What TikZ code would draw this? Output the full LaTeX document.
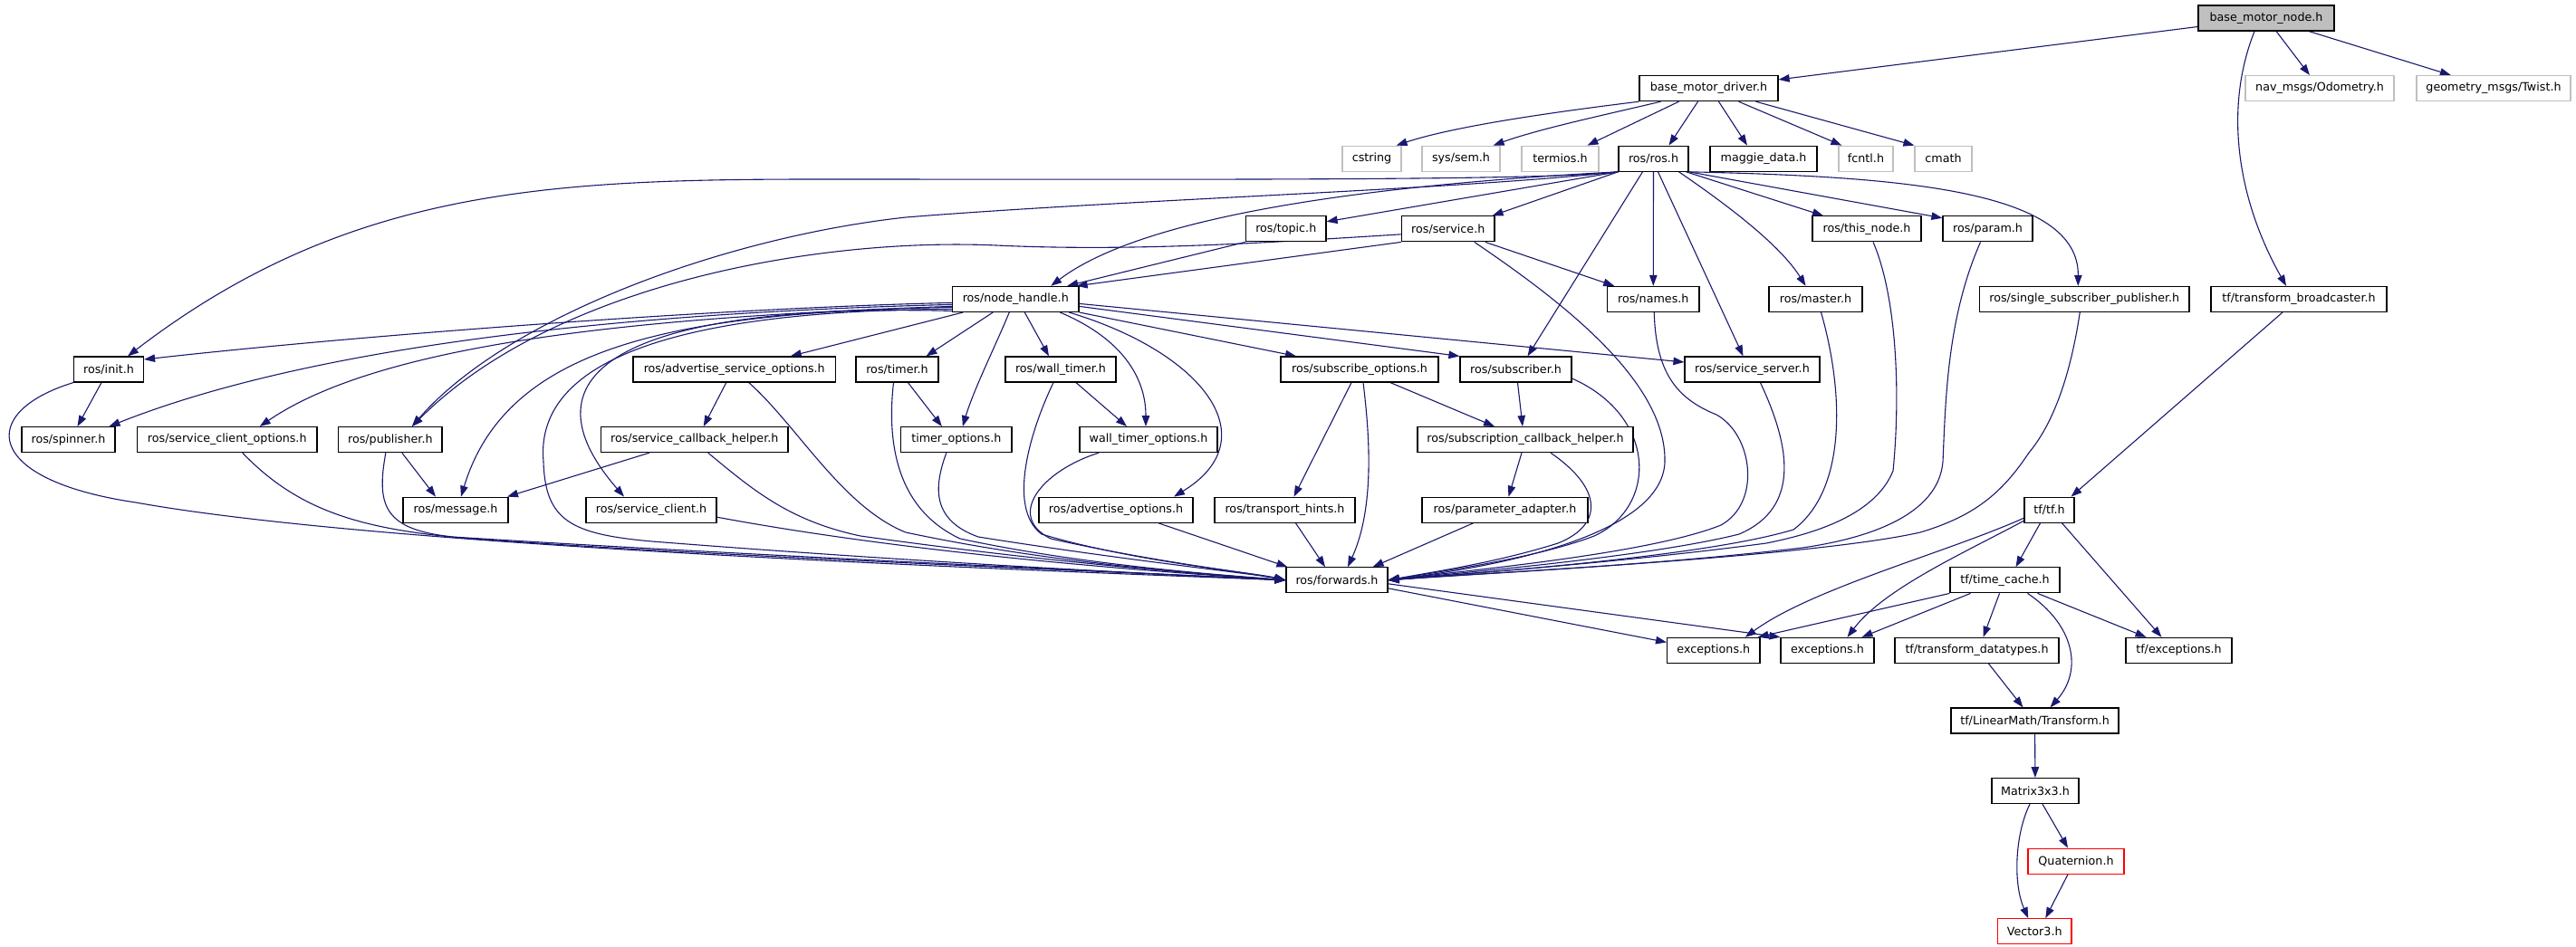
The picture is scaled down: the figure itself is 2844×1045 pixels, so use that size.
\documentclass[tikz,border=0pt]{standalone}
\usepackage{fontspec}
\usetikzlibrary{arrows.meta,backgrounds}
\newfontfamily\dvs{DejaVu Sans}
\definecolor{edgecol}{HTML}{191970}
\definecolor{grayseventyfive}{HTML}{BFBFBF}
\tikzset{
  nbox/.style={draw=black, fill=white, line width=1.2pt, minimum height=28pt, inner sep=0pt,
    font={\dvs\fontsize{12.7pt}{15pt}\selectfont}},
  gbox/.style={nbox, draw=grayseventyfive},
  rbox/.style={nbox, draw=red},
  rootbox/.style={nbox, fill=grayseventyfive},
  edge/.style={draw=edgecol, line width=1.1pt, -{Triangle[length=12pt,width=8.5pt]}},
}
\begin{document}
\begin{tikzpicture}[x=1pt,y=-1pt]
\useasboundingbox (0,0) rectangle (2844,1045);
% rank 0
\node[rootbox, minimum width=150] (root) at (2502,20) {base\_motor\_node.h};
% rank 1
\node[nbox, minimum width=153] (bmd) at (1886.5,97.6) {base\_motor\_driver.h};
\node[gbox, minimum width=164] (nav) at (2561,97.6) {nav\_msgs/Odometry.h};
\node[gbox, minimum width=170] (twist) at (2753,97.6) {geometry\_msgs/Twist.h};
% rank 2
\node[gbox, minimum width=65] (cstring) at (1514.5,175.2) {cstring};
\node[gbox, minimum width=86] (sem) at (1613,175.2) {sys/sem.h};
\node[gbox, minimum width=85] (termios) at (1722.5,175.2) {termios.h};
\node[nbox, minimum width=77] (rosros) at (1825.5,175.2) {ros/ros.h};
\node[nbox, minimum width=118] (maggie) at (1947,175.2) {maggie\_data.h};
\node[gbox, minimum width=60] (fcntl) at (2060,175.2) {fcntl.h};
\node[gbox, minimum width=63] (cmath) at (2145.5,175.2) {cmath};
% rank 3
\node[nbox, minimum width=88.5] (topic) at (1419.75,252.8) {ros/topic.h};
\node[nbox, minimum width=102.5] (service) at (1598.75,252.8) {ros/service.h};
\node[nbox, minimum width=120] (thisnode) at (2061,252.8) {ros/this\_node.h};
\node[nbox, minimum width=99] (param) at (2194.5,252.8) {ros/param.h};
% rank 4
\node[nbox, minimum width=139.5] (nh) at (1121.25,330.4) {ros/node\_handle.h};
\node[nbox, minimum width=101.5] (names) at (1825.25,330.4) {ros/names.h};
\node[nbox, minimum width=103] (master) at (2004.5,330.4) {ros/master.h};
\node[nbox, minimum width=231.5] (ssp) at (2301.25,330.4) {ros/single\_subscriber\_publisher.h};
\node[nbox, minimum width=194] (tb) at (2538,330.4) {tf/transform\_broadcaster.h};
% rank 5
\node[nbox, minimum width=77] (init) at (120,408) {ros/init.h};
\node[nbox, minimum width=223.5] (aso) at (810.75,408) {ros/advertise\_service\_options.h};
\node[nbox, minimum width=91] (timer) at (990.5,408) {ros/timer.h};
\node[nbox, minimum width=122] (wtimer) at (1171,408) {ros/wall\_timer.h};
\node[nbox, minimum width=174] (subopt) at (1501,408) {ros/subscribe\_options.h};
\node[nbox, minimum width=123] (subscriber) at (1673.5,408) {ros/subscriber.h};
\node[nbox, minimum width=149] (sserver) at (1934.5,408) {ros/service\_server.h};
% rank 6
\node[nbox, minimum width=103] (spinner) at (75.5,485.6) {ros/spinner.h};
\node[nbox, minimum width=198.5] (sco) at (250.75,485.6) {ros/service\_client\_options.h};
\node[nbox, minimum width=114.3] (pub) at (430.85,485.6) {ros/publisher.h};
\node[nbox, minimum width=206.5] (sch) at (766.75,485.6) {ros/service\_callback\_helper.h};
\node[nbox, minimum width=122.3] (topt) at (1055.85,485.6) {timer\_options.h};
\node[nbox, minimum width=152] (wtopt) at (1268,485.6) {wall\_timer\_options.h};
\node[nbox, minimum width=238] (scbh) at (1684,485.6) {ros/subscription\_callback\_helper.h};
% rank 7
\node[nbox, minimum width=116] (message) at (503,563.2) {ros/message.h};
\node[nbox, minimum width=144] (sclient) at (719,563.2) {ros/service\_client.h};
\node[nbox, minimum width=170] (aopt) at (1232,563.2) {ros/advertise\_options.h};
\node[nbox, minimum width=155] (thints) at (1418.5,563.2) {ros/transport\_hints.h};
\node[nbox, minimum width=183] (padapt) at (1661.5,563.2) {ros/parameter\_adapter.h};
\node[nbox, minimum width=55] (tf) at (2262.5,563.2) {tf/tf.h};
% rank 8
\node[nbox, minimum width=112] (fwd) at (1476,640.8) {ros/forwards.h};
\node[nbox, minimum width=121] (tcache) at (2213.5,640.8) {tf/time\_cache.h};
% rank 9
\node[nbox, minimum width=102.4] (exc1) at (1891.8,718.4) {exceptions.h};
\node[nbox, minimum width=103] (exc2) at (2017.5,718.4) {exceptions.h};
\node[nbox, minimum width=181] (tdt) at (2182.5,718.4) {tf/transform\_datatypes.h};
\node[nbox, minimum width=117] (tfexc) at (2405.5,718.4) {tf/exceptions.h};
% rank 10-13
\node[nbox, minimum width=185] (ltrans) at (2246.5,796) {tf/LinearMath/Transform.h};
\node[nbox, minimum width=96] (matrix) at (2247,873.6) {Matrix3x3.h};
\node[rbox, minimum width=106] (quat) at (2292,951.2) {Quaternion.h};
\node[rbox, minimum width=81.5] (vec) at (2246.25,1028.8) {Vector3.h};

\begin{scope}[on background layer]
\fill[white] (0,0) rectangle (2844,1045);
% root
\draw[edge] (root) -- (bmd);
\draw[edge] (root) -- (nav);
\draw[edge] (root) -- (twist);
\draw[edge] ([xshift=-13pt]root.south) .. controls (2455,120) and (2470,220) .. ([xshift=-14pt]tb.north);
% base_motor_driver
\draw[edge] (bmd.south west) .. controls (1730,122) and (1610,138) .. ([xshift=-6pt]cstring.north east);
\draw[edge] ([xshift=-53pt]bmd.south) .. controls (1780,125) and (1700,142) .. ([xshift=-8pt]sem.north east);
\draw[edge] ([xshift=-33pt]bmd.south) -- ([xshift=30pt]termios.north);
\draw[edge] ([xshift=-12pt]bmd.south) -- ([xshift=17pt]rosros.north);
\draw[edge] ([xshift=11pt]bmd.south) -- ([xshift=-18pt]maggie.north);
\draw[edge] ([xshift=33pt]bmd.south) -- ([xshift=4pt]fcntl.north west);
\draw[edge] ([xshift=52pt]bmd.south) -- (cmath.north west);
% ros/ros.h
\draw[edge] (rosros.south west) .. controls (1700,200) and (1300,198) .. (900,198) .. controls (600,198) and (380,210) .. ([xshift=21pt]init.north);
\draw[edge] (rosros.south west) .. controls (1600,210) and (1250,220) .. (1000,240) .. controls (800,262) and (560,350) .. ([xshift=24pt]pub.north);
\draw[edge] (rosros.south west) .. controls (1500,205) and (1260,240) .. ([xshift=39pt]nh.north);
\draw[edge] (rosros.south west) -- ([yshift=8pt]topic.east);
\draw[edge] (rosros.south west) -- ([xshift=-3pt]service.north east);
\draw[edge] (rosros) -- (names);
\draw[edge] ([xshift=-12pt]rosros.south) -- ([xshift=13pt]subscriber.north);
\draw[edge] ([xshift=5pt]rosros.south) -- ([xshift=-10pt]sserver.north);
\draw[edge] ([xshift=28pt]rosros.south) .. controls (1905,225) and (1965,270) .. ([xshift=-11pt]master.north);
\draw[edge] ([xshift=36pt]rosros.south) -- ([xshift=-48pt]thisnode.north);
\draw[edge] (rosros.south east) -- ([yshift=12pt]param.west);
\draw[edge] (rosros.south east) .. controls (2100,195) and (2295,210) .. ([xshift=-7pt]ssp.north);
% ros/service.h, ros/topic.h
\draw[edge] ([yshift=-6pt]service.west) .. controls (1400,268) and (1250,278) .. (1100,271) .. controls (900,262) and (610,315) .. ([xshift=24pt]pub.north);
\draw[edge] (service.south west) -- ([xshift=-3pt]nh.north east);
\draw[edge] ([xshift=41pt]service.south) -- ([xshift=-43pt]names.north);
\draw[edge] ([xshift=29pt]service.south) .. controls (1720,330) and (1840,420) .. (1838,510) .. controls (1836,580) and (1700,620) .. (fwd.east);
\draw[edge] (topic.south west) -- ([xshift=57pt]nh.north);
% ros/node_handle.h
\draw[edge] ([yshift=-4pt]nh.west) .. controls (800,340) and (400,370) .. ([yshift=11pt]init.east);
\draw[edge] ([yshift=-6pt]nh.west) .. controls (700,345) and (350,380) .. ([xshift=45pt]spinner.north);
\draw[edge] ([yshift=-8pt]nh.west) .. controls (700,350) and (420,380) .. ([xshift=36pt]sco.north);
\draw[edge] ([yshift=-9pt]nh.west) .. controls (750,345) and (560,380) .. ([xshift=6pt]message.north);
\draw[edge] ([yshift=-11pt]nh.west) .. controls (740,343) and (590,400) .. (600,510) .. controls (602,575) and (630,590) .. (720,598) .. controls (1000,620) and (1250,633) .. (fwd.west);
\draw[edge] ([yshift=-13pt]nh.west) .. controls (720,335) and (560,400) .. ([xshift=-30pt]sclient.north);
\draw[edge] ([xshift=-58pt]nh.south) -- ([xshift=62pt]aso.north);
\draw[edge] ([xshift=-25pt]nh.south) -- ([xshift=32pt]timer.north);
\draw[edge] ([xshift=-7pt]nh.south) .. controls (1100,380) and (1075,430) .. ([xshift=7pt]topt.north);
\draw[edge] ([xshift=10pt]nh.south) -- ([xshift=-13pt]wtimer.north);
\draw[edge] ([xshift=49pt]nh.south) .. controls (1230,370) and (1265,410) .. ([xshift=-3pt]wtopt.north);
\draw[edge] ([xshift=59pt]nh.south) .. controls (1330,390) and (1400,485) .. ([xshift=64pt]aopt.north);
\draw[edge] (nh.south east) -- ([xshift=-70pt]subopt.north);
\draw[edge] ([yshift=-8pt]nh.east) -- (subscriber.north west);
\draw[edge] ([yshift=-5pt]nh.east) -- ([yshift=8pt]sserver.west);
% ros/init.h etc.
\draw[edge] ([xshift=-8pt]init.south) -- ([xshift=10pt]spinner.north);
\draw[edge] (init.south west) .. controls (-25,455) and (-20,530) .. (150,555) .. controls (400,600) and (1000,625) .. (fwd.west);
\draw[edge] ([xshift=17pt]sco.south) .. controls (330,565) and (400,585) .. (520,595) .. controls (800,615) and (1200,630) .. (fwd.west);
\draw[edge] ([xshift=-5pt]pub.south) .. controls (415,560) and (425,585) .. (500,593) .. controls (800,612) and (1200,630) .. (fwd.west);
\draw[edge] ([xshift=13pt]pub.south) -- ([xshift=-22pt]message.north);
\draw[edge] ([xshift=-50pt]sch.south) -- ([xshift=57pt]message.north);
\draw[edge] ([xshift=15pt]sch.south) .. controls (830,540) and (870,575) .. (950,592) .. controls (1150,620) and (1300,632) .. (fwd.west);
\draw[edge] ([xshift=-9pt]aso.south) -- ([xshift=10pt]sch.north);
\draw[edge] ([xshift=16pt]aso.south) .. controls (880,470) and (930,560) .. (1000,588) .. controls (1150,620) and (1300,632) .. (fwd.west);
\draw[edge] ([yshift=-8pt]sclient.east) .. controls (1000,610) and (1250,630) .. (fwd.west);
\draw[edge] ([xshift=12pt]timer.south) -- ([xshift=-16pt]topt.north);
\draw[edge] ([xshift=-4pt]timer.south) .. controls (980,480) and (985,560) .. (1060,595) .. controls (1200,625) and (1350,635) .. (fwd.west);
\draw[edge] ([xshift=-11pt]topt.south) .. controls (1030,540) and (1030,575) .. (1080,593) .. controls (1250,620) and (1380,633) .. (fwd.west);
\draw[edge] ([xshift=17pt]wtimer.south) -- ([xshift=-24pt]wtopt.north);
\draw[edge] ([xshift=-8pt]wtimer.south) .. controls (1140,470) and (1110,560) .. (1150,590) .. controls (1250,620) and (1380,632) .. (fwd.west);
\draw[edge] ([xshift=-55pt]wtopt.south) .. controls (1150,520) and (1110,570) .. (1160,595) .. controls (1280,622) and (1390,634) .. (fwd.west);
\draw[edge] ([xshift=47pt]aopt.south) -- ([xshift=2pt]fwd.north west);
\draw[edge] ([xshift=-9pt]subopt.south) -- ([xshift=10pt]thints.north);
\draw[edge] ([xshift=4pt]subopt.south) .. controls (1512,480) and (1518,560) .. ([xshift=12pt]fwd.north);
\draw[edge] ([xshift=34pt]subopt.south) -- ([xshift=-34pt]scbh.north);
\draw[edge] ([xshift=12pt]thints.south) -- ([xshift=-13pt]fwd.north);
\draw[edge] ([xshift=2pt]subscriber.south) -- ([xshift=-3pt]scbh.north);
\draw[edge] ([yshift=-10pt]subscriber.east) .. controls (1830,460) and (1830,560) .. (1760,592) .. controls (1700,615) and (1600,630) .. (fwd.east);
\draw[edge] ([xshift=-4pt]scbh.south) -- ([xshift=4pt]padapt.north);
\draw[edge] ([xshift=28pt]scbh.south) .. controls (1770,540) and (1770,580) .. (1720,600) .. controls (1650,622) and (1580,632) .. (fwd.east);
\draw[edge] ([xshift=-35pt]padapt.south) -- ([xshift=-17pt]fwd.north east);
\draw[edge] ([xshift=1pt]names.south) .. controls (1828,410) and (1850,440) .. (1895,458) .. controls (1935,480) and (1945,555) .. (1900,580) .. controls (1820,612) and (1620,630) .. (fwd.east);
\draw[edge] ([xshift=9pt]sserver.south) .. controls (1975,490) and (1990,560) .. (1920,590) .. controls (1820,615) and (1620,632) .. (fwd.east);
\draw[edge] ([xshift=6pt]master.south) .. controls (2035,430) and (2040,540) .. (1980,585) .. controls (1880,615) and (1640,632) .. (fwd.east);
\draw[edge] ([xshift=7pt]thisnode.south) .. controls (2095,330) and (2098,440) .. (2090,520) .. controls (2070,570) and (2000,590) .. (1950,600) .. controls (1800,620) and (1640,632) .. (fwd.east);
\draw[edge] ([xshift=-8pt]param.south) .. controls (2150,350) and (2148,440) .. (2145,510) .. controls (2140,570) and (2060,595) .. (1990,605) .. controls (1820,625) and (1640,633) .. (fwd.east);
\draw[edge] ([xshift=-5pt]ssp.south) .. controls (2285,420) and (2265,470) .. (2240,500) .. controls (2210,545) and (2180,570) .. (2120,588) .. controls (2000,615) and (1650,632) .. (fwd.east);
% forwards
\draw[edge] ([yshift=-9pt]fwd.east) -- ([yshift=9pt]exc1.west);
\draw[edge] ([yshift=-4pt]fwd.east) -- (exc2.north west);
% tf
\draw[edge] ([xshift=-18pt]tb.south) -- ([xshift=24pt]tf.north);
\draw[edge] ([yshift=-9pt]tf.west) .. controls (2150,610) and (2000,650) .. ([xshift=35pt]exc1.north);
\draw[edge] ([yshift=-12pt]tf.west) .. controls (2170,610) and (2080,650) .. ([xshift=22pt]exc2.north);
\draw[edge] ([xshift=-10pt]tf.south) -- ([xshift=12pt]tcache.north);
\draw[edge] ([xshift=14pt]tf.south) -- ([xshift=-19pt]tfexc.north);
\draw[edge] (tcache.south west) .. controls (2080,672) and (2000,690) .. ([xshift=-3pt]exc1.north east);
\draw[edge] ([xshift=-38pt]tcache.south) -- ([xshift=38pt]exc2.north);
\draw[edge] ([xshift=-6pt]tcache.south) -- ([xshift=7pt]tdt.north);
\draw[edge] ([xshift=25pt]tcache.south) .. controls (2290,690) and (2300,740) .. ([xshift=17pt]ltrans.north);
\draw[edge] ([xshift=36pt]tcache.south) -- ([xshift=-36pt]tfexc.north);
\draw[edge] ([xshift=13pt]tdt.south) -- ([xshift=-13pt]ltrans.north);
\draw[edge] (ltrans) -- (matrix);
\draw[edge] ([xshift=8pt]matrix.south) -- ([xshift=-9pt]quat.north);
\draw[edge] ([xshift=-6pt]matrix.south) .. controls (2225,920) and (2222,975) .. ([xshift=-7pt]vec.north);
\draw[edge] ([xshift=-9pt]quat.south) -- ([xshift=12pt]vec.north);
\end{scope}
\end{tikzpicture}
\end{document}
